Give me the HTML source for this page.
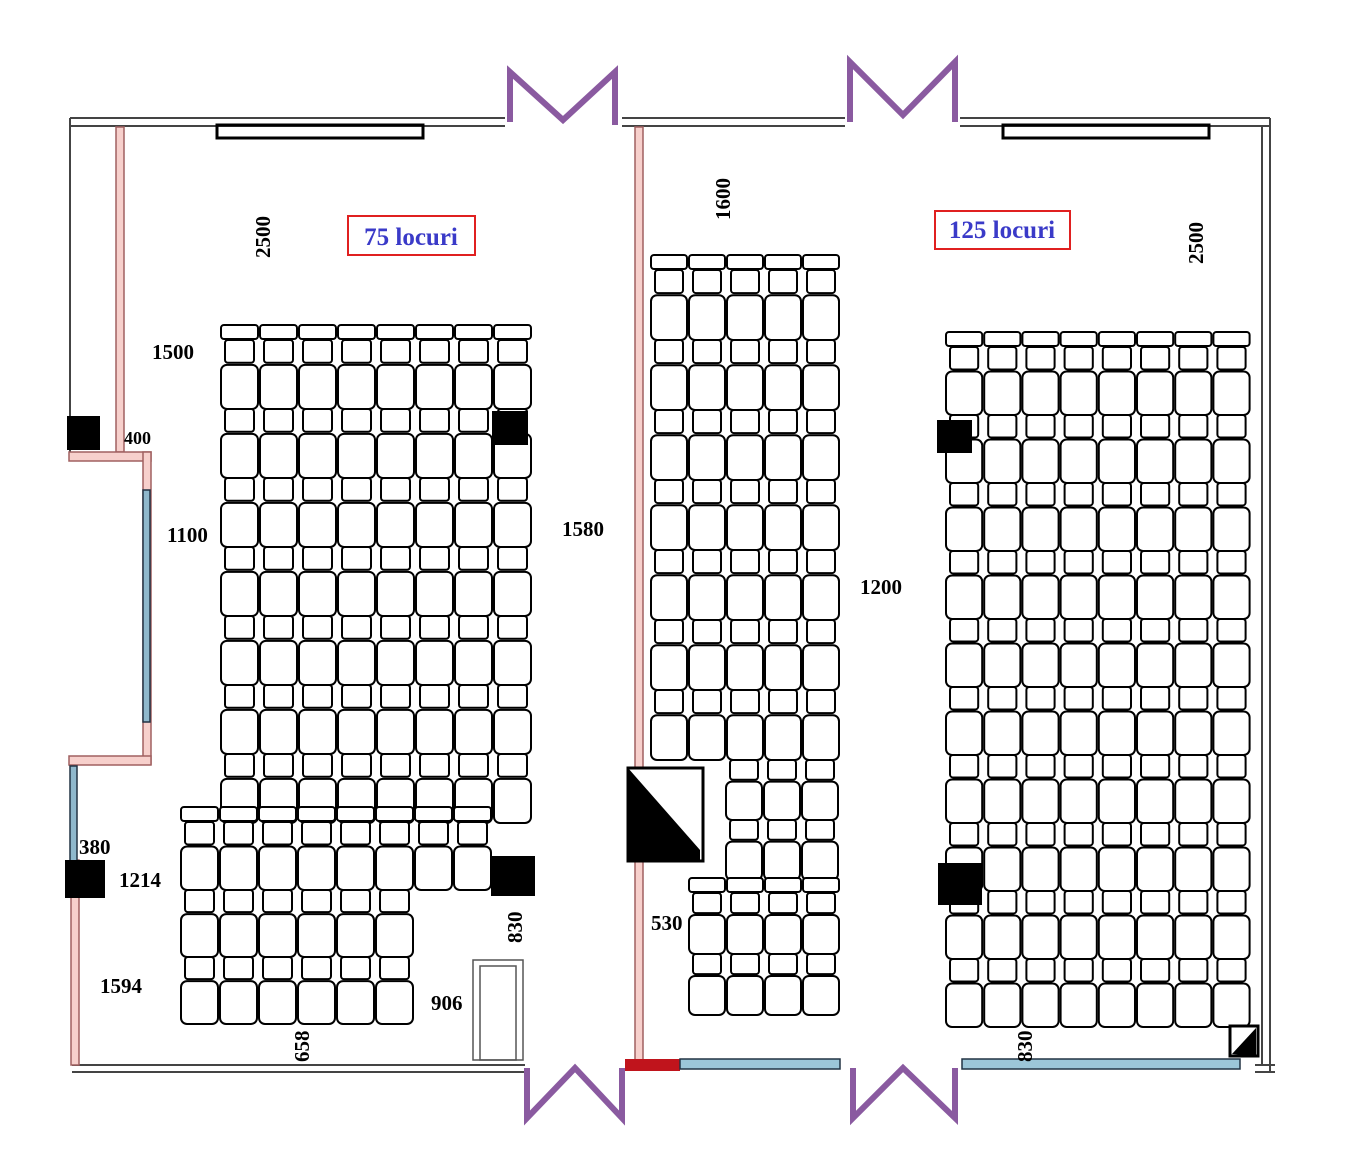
<!DOCTYPE html>
<html><head><meta charset="utf-8"><style>
body{margin:0;background:#fff;width:1348px;height:1173px;overflow:hidden}
svg{display:block}
text{font-family:"Liberation Serif",serif;font-weight:bold}
</style></head><body>
<svg id="s" width="1348" height="1173" viewBox="0 0 1348 1173" xmlns="http://www.w3.org/2000/svg">
<g fill="none" stroke="#444" stroke-width="2">
<path d="M70 118H505M70 126H505M622 118H845M622 126H845M960 118H1270M960 126H1270"/>
<path d="M72 1065H525M72 1072H525M1255 1065H1275M1255 1072H1275"/>
<path d="M70 118V455M1270 118V1072M1262 126V1065"/>
</g>
<rect x="217" y="125" width="206" height="13" fill="none" stroke="#000" stroke-width="3"/>
<rect x="1003" y="125" width="206" height="13" fill="none" stroke="#000" stroke-width="3"/>
<g fill="#f7d0cc" stroke="#a06060" stroke-width="1.5">
<rect x="116" y="127" width="8" height="325"/>
<rect x="69" y="452" width="82" height="9"/>
<rect x="143" y="452" width="8" height="312"/>
<rect x="69" y="756" width="82" height="9"/>
<rect x="71" y="860" width="8" height="205"/>
<rect x="635" y="127" width="8" height="935"/>
</g>
<rect x="143" y="490" width="7" height="232" fill="#8fb8cc" stroke="#234" stroke-width="1.5"/>
<rect x="70" y="766" width="7" height="100" fill="#8fb8cc" stroke="#234" stroke-width="1.5"/>
<rect x="625" y="1059" width="55" height="12" fill="#c0141c"/>
<rect x="680" y="1059" width="160" height="10" fill="#9cc6d8" stroke="#234" stroke-width="1.5"/>
<rect x="962" y="1059" width="278" height="10" fill="#9cc6d8" stroke="#234" stroke-width="1.5"/>
<g fill="none" stroke="#8a5aa0" stroke-width="6">
<path d="M510 122V72L563 120L615 72V125"/>
<path d="M850 122V62L903 115L955 62V122"/>
<path d="M527 1068V1118L575 1068L622 1118V1068"/>
<path d="M853 1068V1118L903 1068L955 1118V1068"/>
</g>
<g id="ch" fill="#fff" stroke="#000" stroke-width="2"></g>
<g fill="#000">
<rect x="67" y="416" width="33" height="34"/>
<rect x="492" y="411" width="36" height="34"/>
<rect x="65" y="860" width="40" height="38"/>
<rect x="491" y="856" width="44" height="40"/>
<rect x="937" y="420" width="35" height="33"/>
<rect x="938" y="863" width="44" height="42"/>
</g>
<rect x="628" y="768" width="75" height="93" fill="#fff" stroke="#000" stroke-width="3"/>
<path d="M628 768L700 850V862H628Z" fill="#000"/>
<rect x="1230" y="1026" width="28" height="30" fill="#fff" stroke="#000" stroke-width="3"/>
<path d="M1232 1054L1256 1028V1056Z" fill="#000"/>
<rect x="473" y="960" width="50" height="100" fill="#fff" stroke="#555" stroke-width="1.5"/>
<rect x="480" y="966" width="36" height="94" fill="none" stroke="#555" stroke-width="1.5"/>
<rect x="348" y="216" width="127" height="39" fill="none" stroke="#e02020" stroke-width="2"/>
<text x="411" y="245" font-size="25" fill="#3a3ac8" text-anchor="middle">75 locuri</text>
<rect x="935" y="211" width="135" height="38" fill="none" stroke="#e02020" stroke-width="2"/>
<text x="1002" y="238" font-size="25" fill="#3a3ac8" text-anchor="middle">125 locuri</text>
<g font-size="21" fill="#000">
<text x="152" y="359">1500</text>
<text x="124" y="444" font-size="18">400</text>
<text x="167" y="542">1100</text>
<text x="562" y="536">1580</text>
<text x="860" y="594">1200</text>
<text x="79" y="854">380</text>
<text x="119" y="887">1214</text>
<text x="100" y="993">1594</text>
<text x="431" y="1010">906</text>
<text x="651" y="930">530</text>
<text transform="translate(270 258) rotate(-90)">2500</text>
<text transform="translate(730 220) rotate(-90)">1600</text>
<text transform="translate(1203 264) rotate(-90)">2500</text>
<text transform="translate(522 943) rotate(-90)">830</text>
<text transform="translate(309 1062) rotate(-90)">658</text>
<text transform="translate(1032 1062) rotate(-90)">830</text>
</g>
</svg>
<script>
var g=document.getElementById('ch'),NS='http://www.w3.org/2000/svg';
function r(x,y,w,h,rx){var e=document.createElementNS(NS,'rect');e.setAttribute('x',x);e.setAttribute('y',y);e.setAttribute('width',w);e.setAttribute('height',h);e.setAttribute('rx',rx);g.appendChild(e);}
function block(x0,y0,cols,pw,units,ph,bar){
 for(var c=0;c<cols;c++){var x=x0+c*pw;
  if(bar)r(x+1,y0-15,pw-2,14,3);
  for(var u=0;u<units;u++){var y=y0+u*ph;
   r(x+5,y,pw-10,ph*0.33,3);
   r(x+1,y+ph*0.36,pw-2,ph*0.64,6);
  }}
}
block(220,340,8,39,7,69,true);
block(180,822,8,39,1,68,true);
block(180,890,6,39,2,67,false);
block(650,270,5,38,7,70,true);
block(725,760,3,38,2,60,false);
block(688,893,4,38,2,61,true);
block(945,347,8,38.2,10,68,true);
</script>
</body></html>
